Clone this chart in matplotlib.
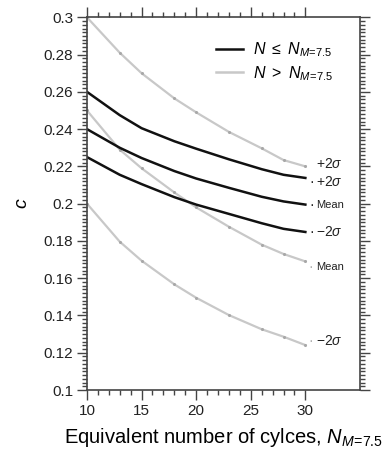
#!/usr/bin/env python3
"""Coefficient c versus equivalent number of cycles."""

import matplotlib

matplotlib.use("Agg")
import matplotlib.pyplot as plt
from matplotlib.ticker import MultipleLocator, FixedLocator

plt.rcParams["font.family"] = ["Liberation Sans", "DejaVu Sans"]
plt.rcParams["mathtext.fontset"] = "custom"
plt.rcParams["mathtext.rm"] = "Liberation Sans"
plt.rcParams["mathtext.it"] = "Liberation Sans:italic"
plt.rcParams["mathtext.bf"] = "Liberation Sans:bold"

# equivalent number of cycles where the curves were read
cycles = [10, 13, 15, 18, 20, 23, 26, 28, 30]

# N <= N_M=7.5 (black)
low_plus2 = [0.260, 0.2475, 0.2405, 0.2335, 0.2295, 0.2238, 0.2185, 0.2155, 0.2138]
low_mean = [0.240, 0.230, 0.2245, 0.2175, 0.2135, 0.2085, 0.2037, 0.2012, 0.1995]
low_minus2 = [0.225, 0.2155, 0.2105, 0.2035, 0.1995, 0.1945, 0.1895, 0.1865, 0.1848]

# N > N_M=7.5 (grey)
high_plus2 = [0.300, 0.281, 0.270, 0.2565, 0.249, 0.2385, 0.2297, 0.2234, 0.220]
high_mean = [0.250, 0.229, 0.219, 0.206, 0.198, 0.1876, 0.178, 0.173, 0.169]
high_minus2 = [0.200, 0.1796, 0.1694, 0.1567, 0.1495, 0.1402, 0.1326, 0.1286, 0.1241]

band_labels = [r"$+2\sigma$", "Mean", r"$-2\sigma$"]
ytick_labels = ["0.1", "0.12", "0.14", "0.16", "0.18", "0.2",
                "0.22", "0.24", "0.26", "0.28", "0.3"]

BLACK = "#111111"
GREY = "#c8c8c8"
SUB = r"_{\mathit{M}\!\mathit{=}\!\mathit{7.5}}"

fig = plt.figure(figsize=(3.9, 4.57), dpi=100)
ax = fig.add_axes([0.223, 0.1466, 0.70, 0.8155])

for vals in (high_plus2, high_mean, high_minus2):
    ax.plot(cycles, vals, "-", color=GREY, linewidth=1.6, marker="o",
            markersize=1.2, markerfacecolor="#a8a8a8", markeredgecolor="#a8a8a8")
for vals in (low_plus2, low_mean, low_minus2):
    ax.plot(cycles, vals, "-", color=BLACK, linewidth=1.8)

# legend proxies
h1, = ax.plot([], [], "-", color=BLACK, linewidth=1.8)
h2, = ax.plot([], [], "-", color=GREY, linewidth=1.8)
ax.legend([h1, h2], [r"$N\ \leq\ N" + SUB + "$", r"$N\ >\ N" + SUB + "$"],
          loc="upper right", bbox_to_anchor=(0.925, 0.955),
          frameon=False, fontsize=11.5, handlelength=1.7, handletextpad=0.6,
          labelspacing=0.3, borderaxespad=0.0)

# curve labels at the right-hand end
x_lab = cycles[-1] + 0.6
ax.text(x_lab + 0.4, high_plus2[-1] + 0.0015, band_labels[0], fontsize=10,
        ha="left", va="center", color="#222222")
black_ends = [low_plus2[-1] - 0.002, low_mean[-1], low_minus2[-1]]
for lab, yv in zip(band_labels, black_ends):
    ax.text(x_lab, yv, "\u00b7", fontsize=10, ha="center", va="center", color=BLACK)
    ax.text(x_lab + 0.4, yv, lab, fontsize=10 if lab != "Mean" else 8,
            ha="left", va="center", color="#222222")
grey_ends = [high_mean[-1] - 0.003, high_minus2[-1] + 0.002]
for lab, yv in zip(band_labels[1:], grey_ends):
    ax.text(x_lab - 0.1, yv, "\u00b7", fontsize=10, ha="center", va="center", color="#aaaaaa")
    ax.text(x_lab + 0.4, yv, lab, fontsize=10 if lab != "Mean" else 8,
            ha="left", va="center", color="#222222")

ax.set_xlim(10, 35)
ax.set_ylim(0.1, 0.3)
ax.xaxis.set_major_locator(FixedLocator([10, 15, 20, 25, 30]))
ax.xaxis.set_minor_locator(FixedLocator(list(range(10, 31))))
ax.yaxis.set_major_locator(FixedLocator([0.1 + 0.02 * i for i in range(11)]))
ax.yaxis.set_minor_locator(MultipleLocator(0.002))
ax.set_yticklabels(ytick_labels)

ax.tick_params(which="both", direction="out", top=True, right=True,
               color="#444444", width=1.0, labelsize=11, labelcolor="#222222")
ax.tick_params(which="major", length=7, pad=3)
ax.tick_params(which="minor", length=3.5)
for side in ax.spines.values():
    side.set_linewidth(1.2)
    side.set_color("#444444")

ax.set_xlabel(r"Equivalent number of cylces, $N" + SUB + "$", fontsize=14.5, labelpad=6)
ax.set_ylabel(r"$c$", fontsize=14, labelpad=9)

fig.savefig("out.png", dpi=100)
